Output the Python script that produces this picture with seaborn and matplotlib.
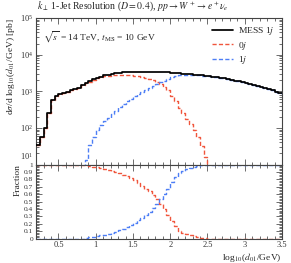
import numpy as np
import pandas as pd
import matplotlib
matplotlib.use("Agg")
import matplotlib.pyplot as plt
import matplotlib.transforms as mtransforms
from matplotlib.ticker import MultipleLocator, LogLocator, NullFormatter, FixedLocator
import seaborn as sns

# bin edges in log10(d01/GeV), 0.05 wide from 0.2 to 3.5
edges = np.round(np.arange(0.2, 3.5001, 0.05), 2)

# MESS 1j total [pb], one value per bin
mess = [35, 56, 100, 250, 560, 740, 850, 910, 980, 1070, 1150,
        1260, 1440, 1660, 1860, 2090, 2340, 2510, 2690, 2820, 2950,
        3090, 3160, 3240, 3310, 3390, 3390, 3430, 3430, 3390, 3390,
        3350, 3310, 3270, 3240, 3240, 3160, 3130, 3090, 3020, 2950,
        2880, 2820, 2750, 2690, 2630, 2570, 2480, 2400, 2320, 2240,
        2140, 2040, 1950, 1860, 1780, 1700, 1580, 1480, 1380, 1290,
        1200, 1120, 1050, 955, 870]

# 0-jet contribution
jet0 = [35, 56, 100, 250, 560, 740, 850, 910, 980, 1070, 1150,
        1260, 1440, 1650, 1825, 2030, 2255, 2390, 2540, 2630, 2710,
        2795, 2800, 2800, 2785, 2770, 2670, 2580, 2450, 2290, 2160,
        1970, 1760, 1530, 1290, 1050, 760, 530, 340, 250, 175,
        125, 85, 58, 33, 16, 0, 0, 0, 0, 0,
        0, 0, 0, 0, 0, 0, 0, 0, 0, 0,
        0, 0, 0, 0, 0]

# 1-jet contribution
jet1 = [0, 0, 0, 0, 0, 0, 0, 0, 0, 0, 0,
        0, 0, 13, 35, 56, 85, 117, 151, 190, 240,
        295, 363, 437, 525, 617, 724, 851, 977, 1096, 1230,
        1380, 1550, 1740, 1950, 2190, 2400, 2600, 2730, 2770, 2780,
        2755, 2735, 2690, 2660, 2615, 2570, 2480, 2400, 2320, 2240,
        2140, 2040, 1950, 1860, 1780, 1700, 1580, 1480, 1380, 1290,
        1200, 1120, 1050, 955, 870]

labels = ["MESS 1$j$", "0$j$", "1$j$"]
colors = {"MESS 1$j$": "black", "0$j$": "#f0553c", "1$j$": "#4d7ef5"}
x_ticks = [0.5, 1, 1.5, 2, 2.5, 3, 3.5]
x_ticklabels = ["0.5", "1", "1.5", "2", "2.5", "3", "3.5"]
frac_ticklabels = ["0", "0.1", "0.2", "0.3", "0.4", "0.5", "0.6",
                   "0.7", "0.8", "0.9", "1"]


def step_frame(values, label):
    # repeat the last value at the closing edge so the step reaches 3.5
    vals = list(values) + [values[-1]]
    return pd.DataFrame({"x": edges, "y": vals, "series": label})


mess_arr = np.array(mess, dtype=float)
main_df = pd.concat([step_frame(mess, labels[0]),
                     step_frame(jet0, labels[1]),
                     step_frame(jet1, labels[2])], ignore_index=True)
frac_df = pd.concat([step_frame(list(np.array(jet0) / mess_arr), labels[1]),
                     step_frame(list(np.array(jet1) / mess_arr), labels[2])],
                    ignore_index=True)

sns.set_style("ticks")
plt.rcParams["font.family"] = ["Liberation Serif", "DejaVu Serif"]
plt.rcParams["mathtext.fontset"] = "stix"

fig = plt.figure(figsize=(2.91, 2.63), dpi=100)
ax1 = fig.add_axes([0.124, 0.3745, 0.845, 0.5575])
ax2 = fig.add_axes([0.124, 0.0924, 0.845, 0.2821], sharex=ax1)

dashes = {labels[0]: "", labels[1]: (3, 1.6), labels[2]: (3, 1.6)}
sns.lineplot(data=main_df, x="x", y="y", hue="series", style="series",
             hue_order=labels, style_order=labels, palette=colors,
             dashes=dashes, estimator=None, drawstyle="steps-post",
             linewidth=1.0, ax=ax1)
# MESS total drawn on top of the components
ax1.lines[0].set_zorder(5)
ax1.lines[0].set_linewidth(1.25)
ax1.set_yscale("log")
ax1.set_ylim(10, 1e5)
ax1.set_xlim(0.2, 3.5)

sns.lineplot(data=frac_df, x="x", y="y", hue="series", style="series",
             hue_order=labels[1:], palette=colors, dashes=dashes,
             estimator=None, drawstyle="steps-post", linewidth=1.0,
             legend=False, ax=ax2)
ax2.set_ylim(0, 1)

# legend
leg = ax1.legend(loc="upper right", frameon=False, fontsize=6.8,
                 handlelength=2.2, borderaxespad=0.4, labelspacing=0.25,
                 handletextpad=0.5)
for line in leg.get_lines():
    line.set_linewidth(1.0)
leg.get_lines()[0].set_linewidth(1.25)

# ticks
for ax in (ax1, ax2):
    ax.tick_params(which="both", direction="in", top=True, right=True,
                   labelsize=6, colors="#333333", pad=2)
    ax.tick_params(which="major", length=4, width=0.5)
    ax.tick_params(which="minor", length=2, width=0.5)
    ax.set_xticks(x_ticks)
    ax.xaxis.set_minor_locator(MultipleLocator(0.1))
    for sp in ax.spines.values():
        sp.set_linewidth(0.8)
        sp.set_color("#444444")

ax1.yaxis.set_major_locator(LogLocator(base=10))
ax1.yaxis.set_minor_locator(LogLocator(base=10, subs=np.arange(2, 10)))
ax1.yaxis.set_minor_formatter(NullFormatter())
ax1.tick_params(axis="x", labelbottom=False)

ax2.yaxis.set_major_locator(FixedLocator(np.round(np.arange(0, 1.01, 0.1), 1)))
ax2.yaxis.set_minor_locator(MultipleLocator(0.02))
ax2.set_yticklabels(frac_ticklabels)
ax2.set_xticklabels(x_ticklabels)
ax2.tick_params(axis="y", labelsize=5.3)

# keep the shared-edge labels (10^1 and 1) from sitting on top of each other
fig.canvas.draw()
lab_10 = ax1.get_yticklabels()[1]
lab_10.set_verticalalignment("bottom")
lab_10.set_transform(lab_10.get_transform() +
                     mtransforms.ScaledTranslation(0, 2 / 72, fig.dpi_scale_trans))

ax1.set_xlabel("")
ax1.set_ylabel(r"d$\sigma$/d log$_{10}$($d_{01}$/GeV) [pb]", fontsize=6.8,
               loc="top", labelpad=2)
ax2.set_ylabel("Fraction", fontsize=6.8, loc="top", labelpad=2)
ax2.set_xlabel(r"log$_{10}$($d_{01}$/GeV)", fontsize=6.8, loc="right",
               labelpad=1)

fig.text(0.127, 0.952,
         r"$k_\perp$ 1-Jet Resolution ($D = 0.4$), $pp \to W^+ \to e^+\nu_e$",
         fontsize=7, ha="left", va="bottom")
ax1.text(0.03, 0.92, r"$\sqrt{s}$ = 14 TeV, $t_{\rm MS}$ = 10 GeV",
         transform=ax1.transAxes, fontsize=6.8, ha="left", va="top")

fig.savefig("out.png", dpi=100)
